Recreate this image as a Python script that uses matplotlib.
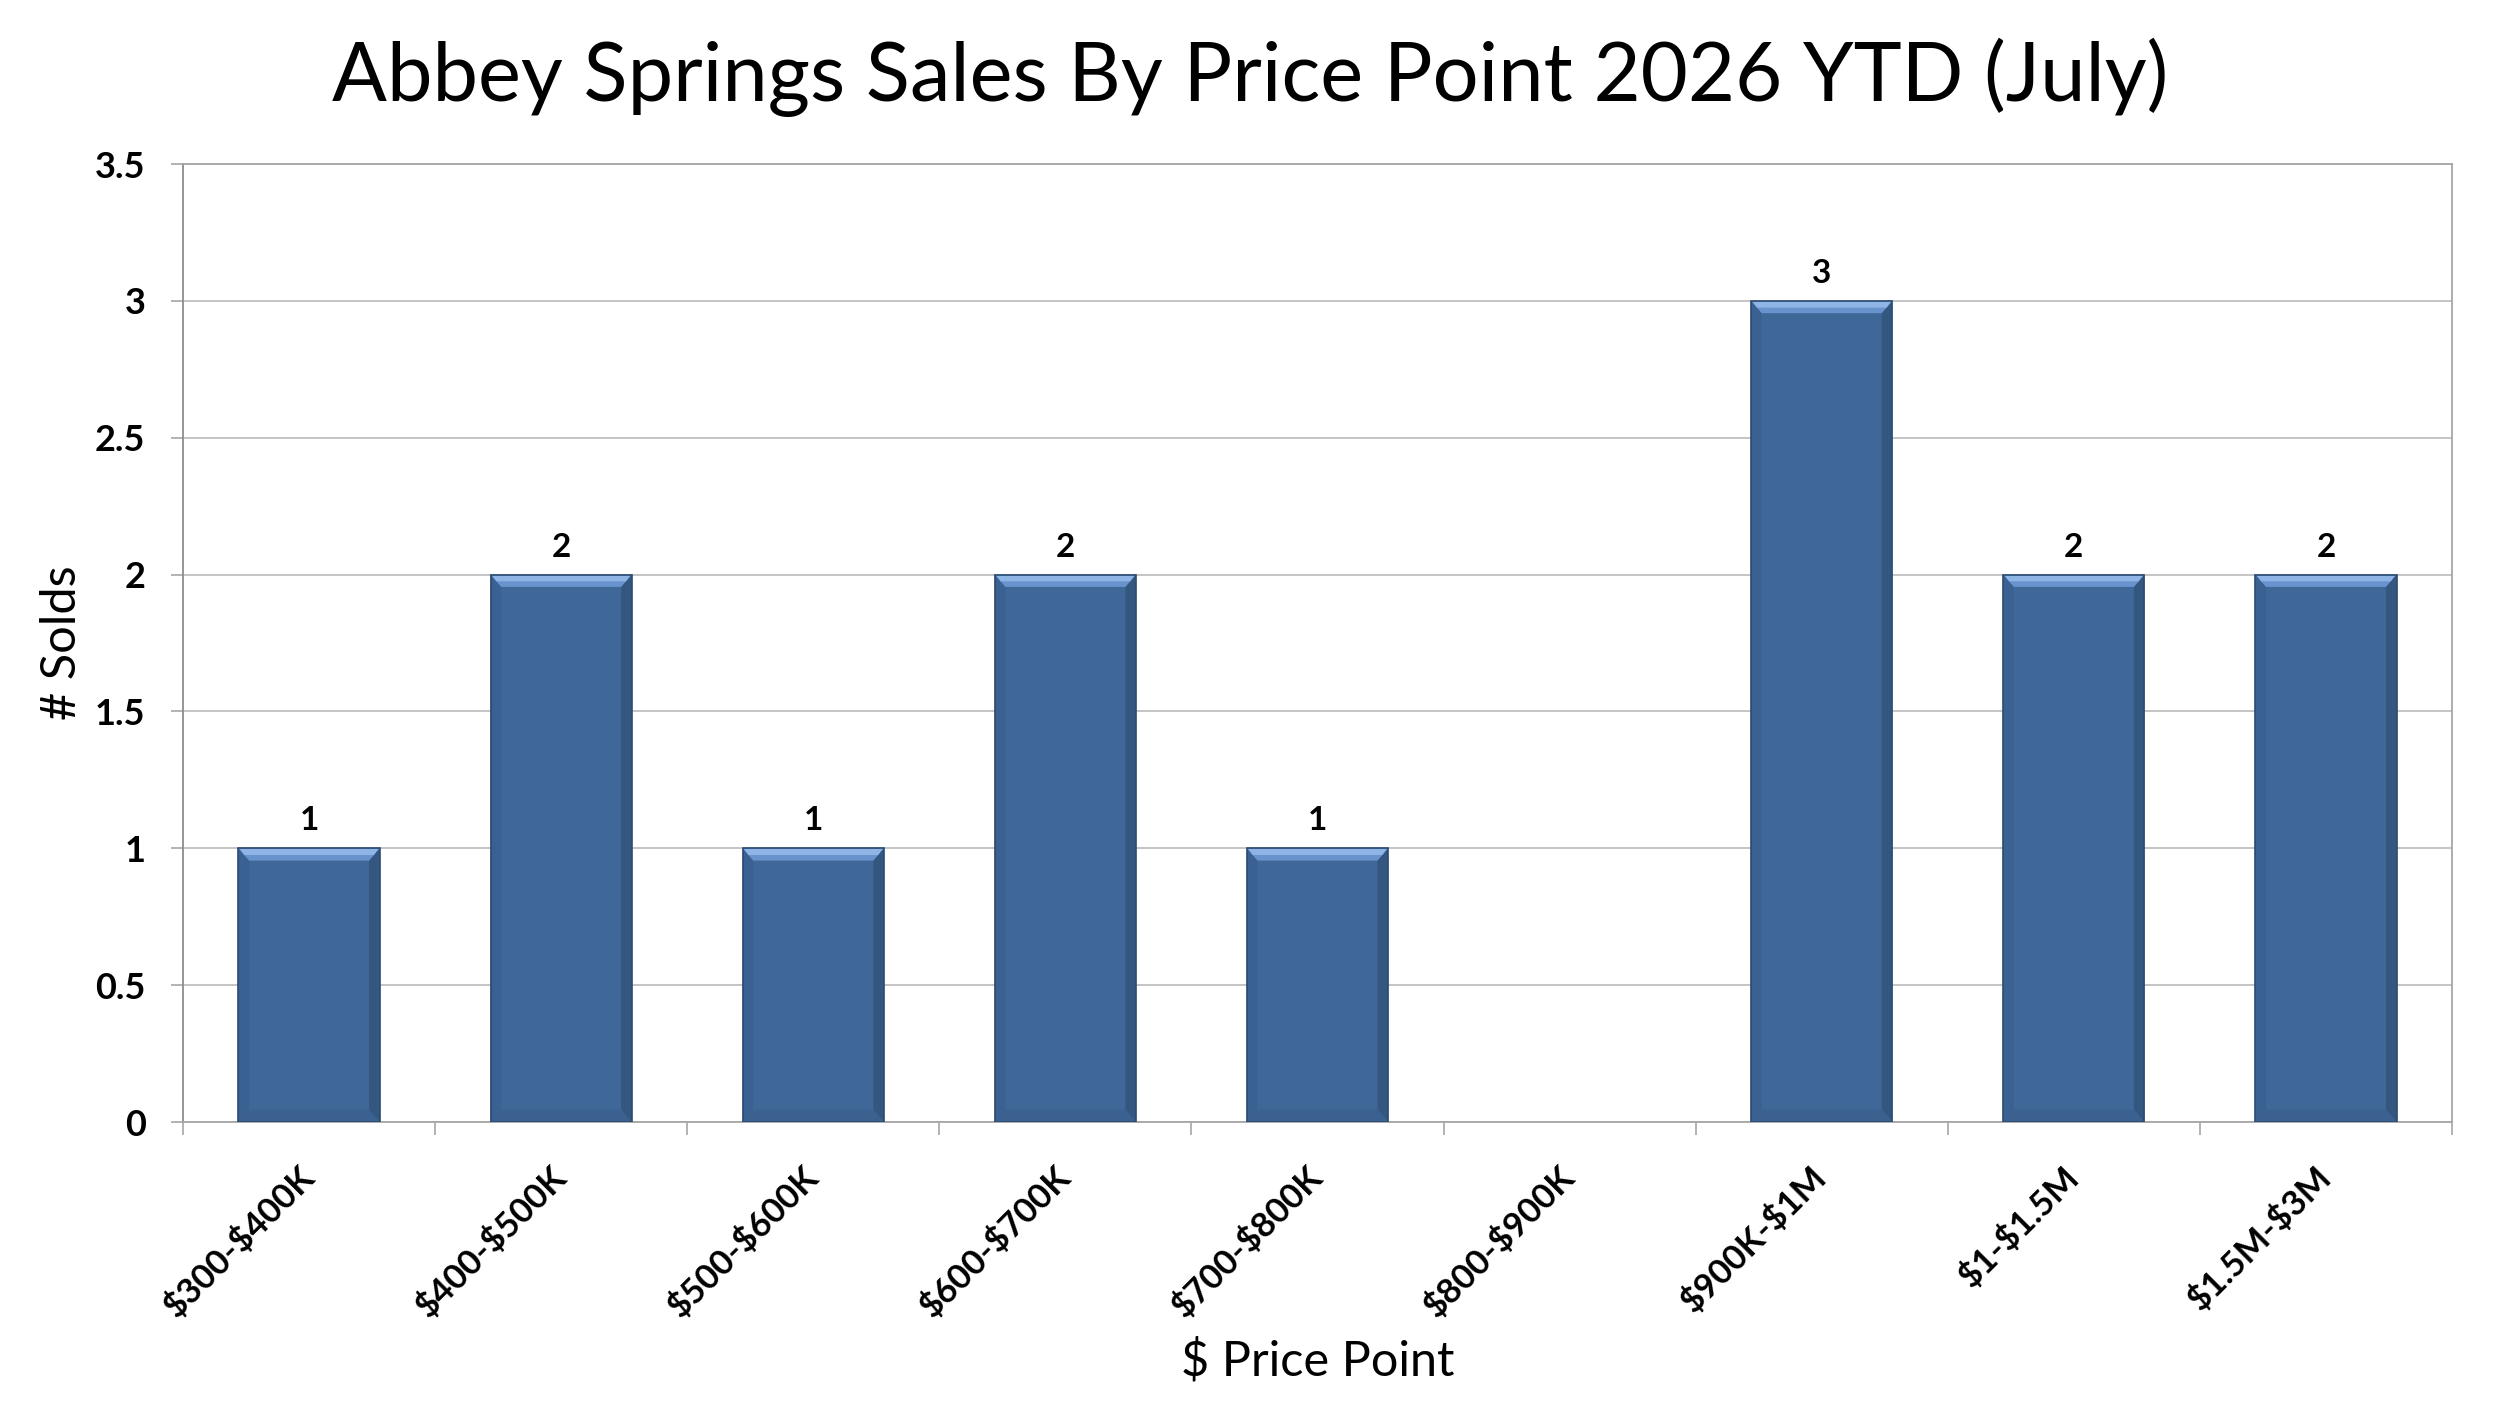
import matplotlib
matplotlib.use("Agg")
import matplotlib.pyplot as plt
from matplotlib.patches import Polygon
from matplotlib.transforms import ScaledTranslation
import numpy as np

categories = ["$300-$400K", "$400-$500K", "$500-$600K", "$600-$700K", "$700-$800K",
              "$800-$900K", "$900K-$1M", "$1-$1.5M", "$1.5M-$3M"]
solds = [1, 2, 1, 2, 1, 0, 3, 2, 2]
yticks = [0, 0.5, 1, 1.5, 2, 2.5, 3, 3.5]
ytick_labels = ["0", "0.5", "1", "1.5", "2", "2.5", "3", "3.5"]

title = "Abbey Springs Sales By Price Point 2026 YTD (July)"
xlabel = "$ Price Point"
ylabel = "# Solds"

plt.rcParams['font.family'] = ['Lato', 'DejaVu Sans']
plt.rcParams['text.parse_math'] = False

W, H, DPI = 2500, 1405, 100
fig = plt.figure(figsize=(W / DPI, H / DPI), dpi=DPI)
left, right, top, bottom = 183 / W, 2452 / W, 164 / H, 1122 / H
ax = fig.add_axes([left, 1 - bottom, right - left, bottom - top])

x = np.arange(len(categories))
bw = 0.56
main = '#3F6898'
edge = '#2B4A72'
bars = ax.bar(x, solds, width=bw, color=main, edgecolor='none', linewidth=0, zorder=3)

# bevel effect derived from each bar's geometry
bx = 0.042   # horizontal bevel (x units)
by = 0.045   # vertical bevel (y units)
for b in bars:
    h = b.get_height()
    if h <= 0:
        continue
    x0 = b.get_x(); x1 = x0 + b.get_width()
    ax.add_patch(Polygon([[x0, 0], [x0 + bx, by], [x0 + bx, h - by], [x0, h]],
                         closed=True, facecolor='#3A6192', edgecolor='none', zorder=4))
    ax.add_patch(Polygon([[x1, 0], [x1 - bx, by], [x1 - bx, h - by], [x1, h]],
                         closed=True, facecolor='#34577F', edgecolor='none', zorder=4))
    ax.add_patch(Polygon([[x0, 0], [x1, 0], [x1 - bx, by], [x0 + bx, by]],
                         closed=True, facecolor='#3A6190', edgecolor='none', zorder=4))
    ax.add_patch(Polygon([[x0, h], [x1, h], [x1 - bx, h - by], [x0 + bx, h - by]],
                         closed=True, facecolor='#6893CC', edgecolor='none', zorder=4))
    ax.add_patch(Polygon([[x0 + 0.005, h - 0.002], [x1 - 0.005, h - 0.002],
                          [x1 - bx * 0.55, h - by * 0.55], [x0 + bx * 0.55, h - by * 0.55]],
                         closed=True, facecolor='#8FB5E6', edgecolor='none', zorder=4))
    ax.add_patch(Polygon([[x0, 0], [x1, 0], [x1, h], [x0, h]], closed=True,
                         facecolor='none', edgecolor=edge, linewidth=1.2, zorder=5))

for xi, v in zip(x, solds):
    if v > 0:
        ax.text(xi, v + 0.1, str(v), ha='center', va='center', fontsize=24,
                fontweight='bold', color='black', zorder=6)

ax.set_xlim(-0.5, len(categories) - 0.5)
ax.set_ylim(0, 3.5)
ax.set_yticks(yticks)
ax.set_yticklabels(ytick_labels, fontsize=26, fontweight='bold')
ax.set_xticks(x)
ax.set_xticklabels(categories, fontsize=25, fontweight='bold', rotation=45,
                   ha='right', va='center', rotation_mode='anchor')
shift = ScaledTranslation(0.10, 0, fig.dpi_scale_trans)
for lab in ax.get_xticklabels():
    lab.set_transform(lab.get_transform() + shift)
ax.set_xticks(np.arange(-0.5, len(categories), 1), minor=True)
ax.tick_params(axis='x', which='major', length=0, pad=36)
ax.tick_params(axis='x', which='minor', length=9, width=1.2, color='#A6A6A6', direction='out')
ax.tick_params(axis='y', length=9, width=1.2, color='#A6A6A6', pad=18)

ax.grid(axis='y', color='#BFBFBF', linewidth=1.3, zorder=0)
ax.set_axisbelow(True)
for s in ['left', 'right', 'bottom', 'top']:
    ax.spines[s].set_color('#A6A6A6')
    ax.spines[s].set_linewidth(1.3)
ax.spines['left'].set_color('#8C8C8C')

ax.set_ylabel(ylabel, fontsize=35, labelpad=8)
ax.set_xlabel(xlabel, fontsize=35, labelpad=10)
fig.text(0.5, 1 - 77 / H, title, ha='center', va='center', fontsize=58.5)

fig.savefig("out.png", dpi=DPI, facecolor='white')
